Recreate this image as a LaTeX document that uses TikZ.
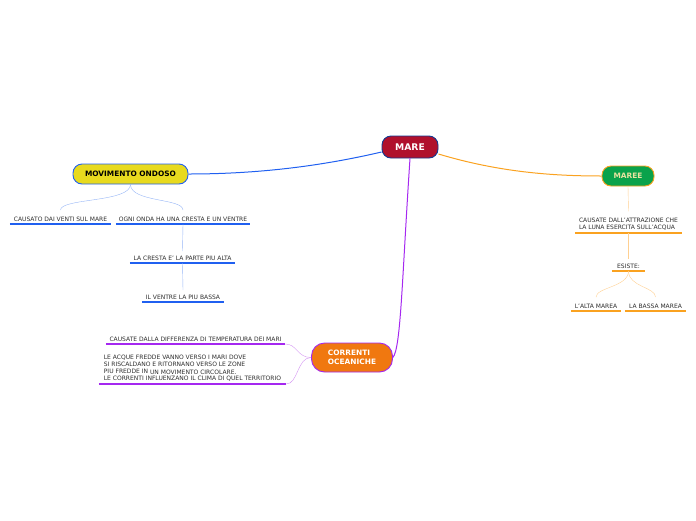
\documentclass[tikz,border=0pt]{standalone}
\usepackage{fontspec}
\setmainfont{DejaVu Sans}
\usepackage{tikz}
\usetikzlibrary{positioning,calc}
\definecolor{mare}{RGB}{176,16,44}
\definecolor{blu}{RGB}{32,96,240}
\definecolor{bluchiaro}{RGB}{150,182,246}
\definecolor{viola}{RGB}{165,40,240}
\definecolor{violachiaro}{RGB}{212,150,242}
\definecolor{arancio}{RGB}{250,162,32}
\definecolor{aranciochiaro}{RGB}{255,208,145}
\definecolor{giallo}{RGB}{232,218,30}
\definecolor{verde}{RGB}{10,162,75}
\definecolor{arancione}{RGB}{240,120,16}
\definecolor{testo}{RGB}{45,45,45}
\definecolor{mareetxt}{RGB}{232,226,160}

\begin{document}
\begin{tikzpicture}[x=1pt,y=-1pt,
  topic/.style={rounded corners=9pt,line width=0.9pt,inner sep=0pt,
    font=\fontsize{7.4}{8.8}\selectfont\bfseries,align=left},
  leaf/.style={text=testo,font=\fontsize{6}{7}\selectfont,
    inner xsep=0pt,inner ysep=2.5pt,anchor=south,align=left},
  ul/.style={line width=1.2pt},
  conn/.style={line width=1pt}]

  \useasboundingbox (0,0) rectangle (696,520);

  %,  Central topics, 
  \node[topic,fill=mare,draw=blu!60!black,text=white,minimum width=56pt,
    minimum height=22pt,font=\fontsize{9.2}{10}\selectfont\bfseries]
    (mare) at (410,147) {MARE};
  \node[topic,fill=giallo,draw=blu,text=black,minimum width=115pt,
    minimum height=20pt] (movimento) at (130.5,174) {MOVIMENTO ONDOSO};
  \node[topic,fill=verde,draw=arancio,text=mareetxt,minimum width=52pt,
    minimum height=20pt] (maree) at (628,176) {MAREE};
  \node[topic,fill=arancione,draw=viola,text=white,minimum width=81pt,
    minimum height=29pt,rounded corners=13pt] (correnti) at (352,357.5)
    {CORRENTI\\OCEANICHE};

  %,  Leaves (name/x/y/width/text), 
  \foreach \n/\x/\y/\w/\txt in {
    causato/60.5/224/101/{CAUSATO DAI VENTI SUL MARE},
    ogni/183/224/134/{OGNI ONDA HA UNA CRESTA E UN VENTRE},
    cresta/182.5/263/105/{LA CRESTA E' LA PARTE PIU ALTA},
    ventre/183/302/82/{IL VENTRE LA PIU BASSA},
    diff/195.5/344/179/{CAUSATE DALLA DIFFERENZA DI TEMPERATURA DEI MARI},
    attrazione/628.5/233/107/{CAUSATE DALL'ATTRAZIONE CHE\\LA LUNA ESERCITA SULL'ACQUA},
    esiste/628.5/271/33/{ESISTE:},
    alta/596/311/50/{L'ALTA MAREA},
    bassa/655.5/311/61/{LA BASSA MAREA}%
  }
    \node[leaf,minimum width=\w pt] (\n) at (\x,\y) {\txt};

  \node[leaf,minimum width=187pt] (acque) at (192.5,384)
    {LE ACQUE FREDDE VANNO VERSO I MARI DOVE\\
     SI RISCALDANO E RITORNANO VERSO LE ZONE\\
     PIU FREDDE IN \raisebox{-0.8pt}{UN MOVIMENTO CIRCOLARE.}\\
     LE CORRENTI INFLUENZANO IL CLIMA DI QUEL TERRITORIO};

  %,  Underlines, 
  \foreach \n/\col in {causato/blu,ogni/blu,cresta/blu,ventre/blu,
    diff/viola,acque/viola,attrazione/arancio,esiste/arancio,
    alta/arancio,bassa/arancio}
    \draw[ul,\col] (\n.south west) -- (\n.south east);

  %,  Main branches, 
  \draw[conn,blu] ([yshift=-5pt]mare.west) .. controls +(-60,14) and +(70,0)
    .. (movimento.east);
  \draw[conn,arancio] ([yshift=-7pt]mare.east) .. controls +(60,18)
    and +(-50,0) .. (maree.west);
  \draw[conn,viola] (mare.south) .. controls +(-8,120) and +(8,-10)
    .. (correnti.east);

  %,  Sub branches, 
  \draw[bluchiaro] (movimento.south) .. controls +(0,18) and +(0,-12)
    .. ([yshift=4pt]causato.north);
  \draw[bluchiaro] (movimento.south) .. controls +(0,18) and +(0,-12)
    .. ([yshift=4pt]ogni.north);
  \draw[bluchiaro] (ogni.south) -- ([yshift=2pt]cresta.north);
  \draw[bluchiaro] (cresta.south) -- ([yshift=2pt]ventre.north);

  \draw[violachiaro] (correnti.west) .. controls +(-14,0) and +(12,0)
    .. (diff.south east);
  \draw[violachiaro] (correnti.west) .. controls +(-14,0) and +(12,0)
    .. (acque.south east);

  \draw[aranciochiaro] (maree.south) -- ([yshift=4pt]attrazione.north);
  \draw[aranciochiaro] (attrazione.south) -- ([yshift=2pt]esiste.north);
  \draw[aranciochiaro] (esiste.south) .. controls +(0,16) and +(0,-10)
    .. ([yshift=4pt]alta.north);
  \draw[aranciochiaro] (esiste.south) .. controls +(0,16) and +(0,-10)
    .. ([yshift=4pt]bassa.north);

\end{tikzpicture}
\end{document}
